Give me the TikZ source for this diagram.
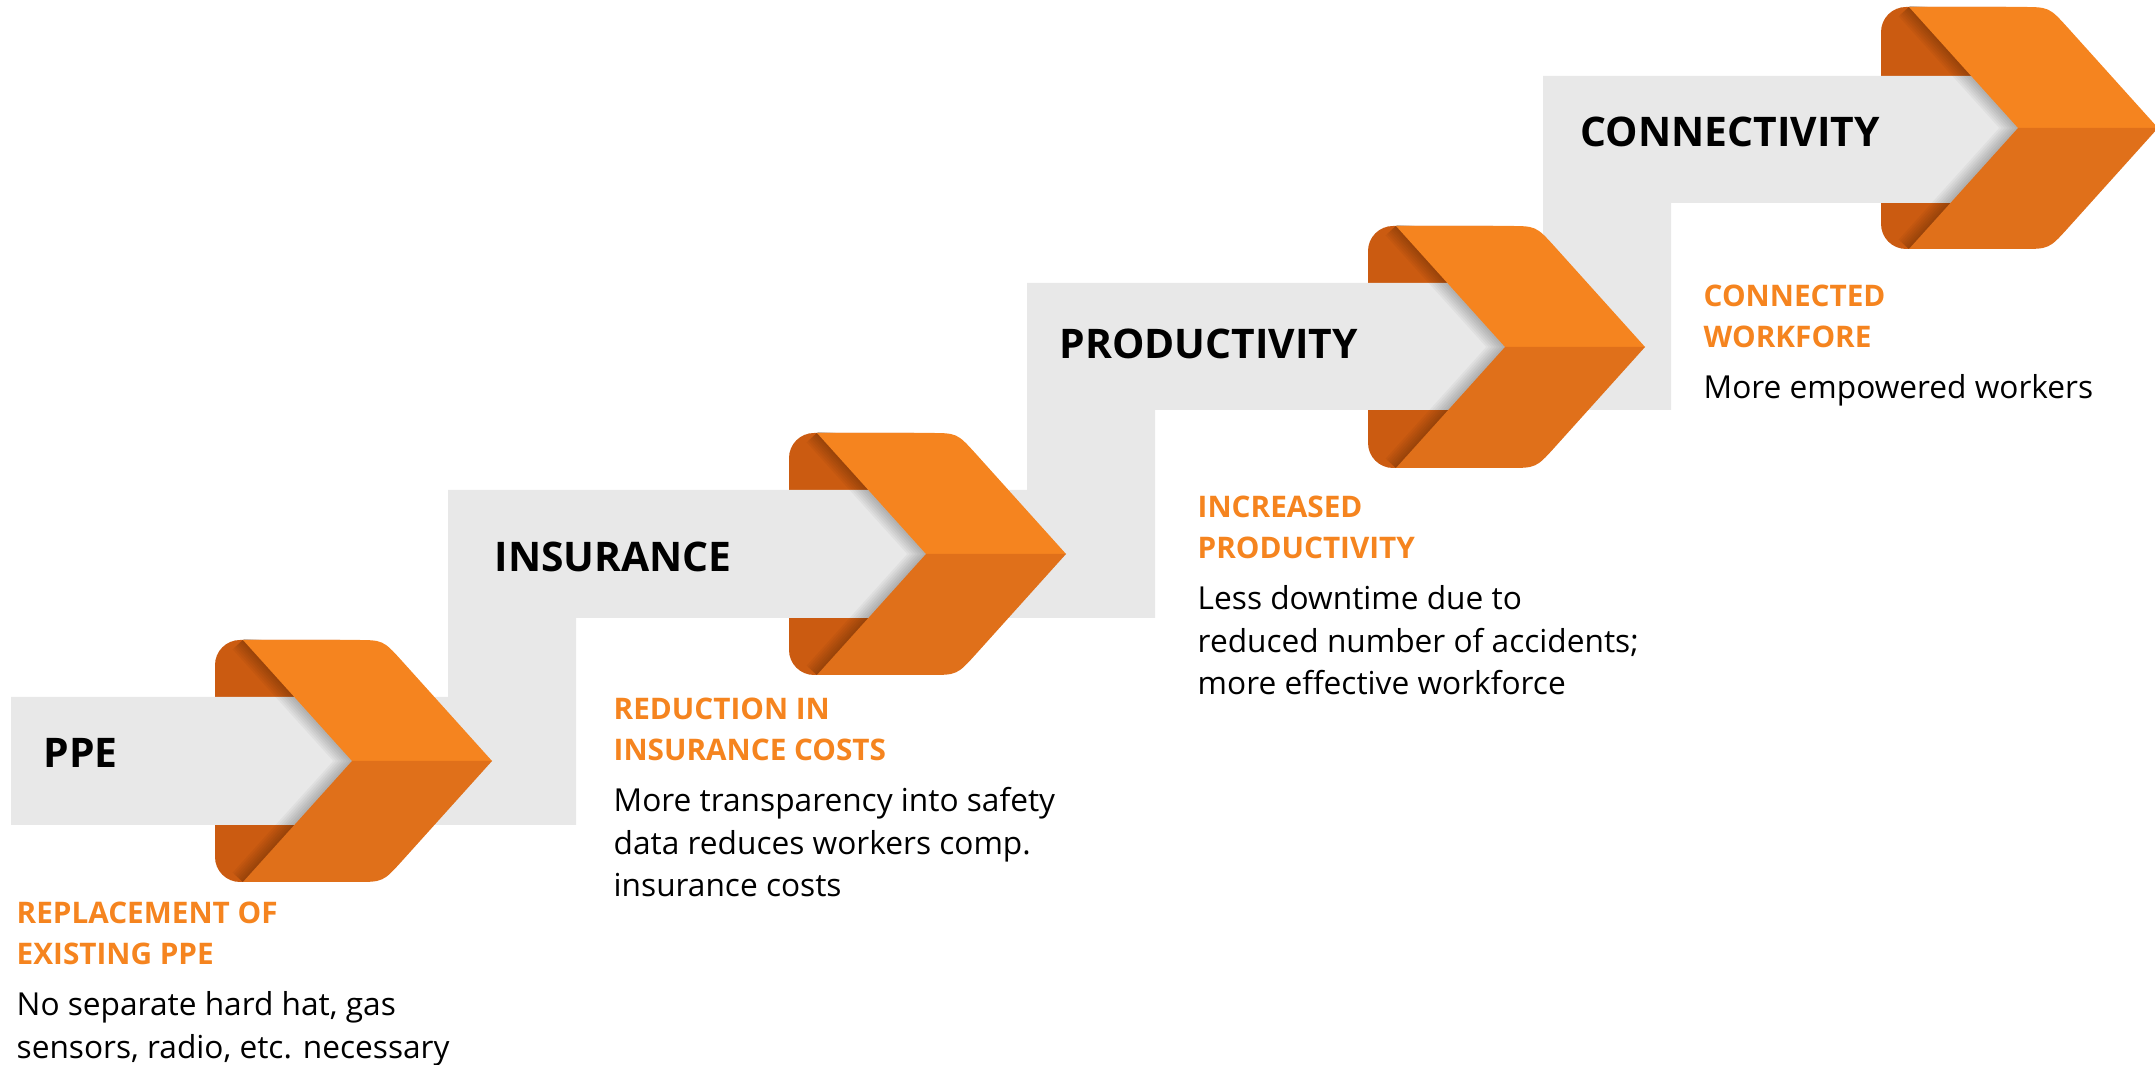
\documentclass[tikz,border=0pt]{standalone}
\usepackage{fontspec}
\setmainfont{Open Sans}
\usepackage{xcolor}
\definecolor{orangeLight}{HTML}{F5841F}
\definecolor{orangeDark}{HTML}{E0701A}
\definecolor{orangeBack}{HTML}{CB5B11}
\definecolor{stepGray}{HTML}{E8E8E8}
\colorlet{colorHeading}{orangeLight}
\usepackage{tikz}
\usetikzlibrary{positioning}
\tikzset{
  stage/.style={anchor=base west, inner sep=0pt, font=\fontsize{11.6}{14}\selectfont\bfseries},
  heading/.style={anchor=north west, inner sep=0pt, align=left, text=colorHeading, font=\fontsize{8.45}{11.8}\selectfont\bfseries},
  detail/.style={inner sep=0pt, align=left, font=\fontsize{9}{12.1}\selectfont},
}

\begin{document}
\begin{tikzpicture}[x=0.01cm, y=-0.01cm]
\useasboundingbox (0,0) rectangle (2155,1065);
% back of the chevrons
\foreach \l/\t in {215/640, 789/433, 1368/226, 1881/7}
  \fill[orangeBack, rounded corners=0.25cm] (\l,\t) rectangle ++(150,242);
% grey steps
\fill[stepGray] (11,697) -- (448,697) -- (448,490) -- (1027,490) -- (1027,283) -- (1543,283) -- (1543,76) -- (2018,76) -- (2018,203) -- (1671,203) -- (1671,410) -- (1155,410) -- (1155,618) -- (576,618) -- (576,825) -- (11,825) -- cycle;
% front of the chevrons, with the fold shadow
\foreach \l/\t in {215/640, 789/433, 1368/226, 1881/7} {
  \begin{scope}[shift={(\l,\t)}]
    \begin{scope}
      \clip (0,0) rectangle (277,242);
      \foreach \w in {0.04,0.08,0.12,0.16,0.2,0.24,0.28}
        \draw[black, opacity=0.035, line width=\w cm] (28,0) -- (137,121) -- (28,242);
    \end{scope}
    \fill[orangeLight] (28,0) -- (140,0) .. controls (168,0) .. (187,21) -- (277,121) -- (137,121) -- cycle;
    \fill[orangeDark] (137,121) -- (277,121) -- (187,221) .. controls (168,242) .. (140,242) -- (28,242) -- cycle;
  \end{scope}
}
% stage titles
\node[stage] (ppe) at (43,768) {PPE};
\node[stage] (insurance) at (494,572) {INSURANCE};
\node[stage] (productivity) at (1059,359) {PRODUCTIVITY};
\node[stage] (connectivity) at (1580,147) {CONNECTIVITY};
% gains
\node[heading] (gainPPE) at (16,901) {REPLACEMENT OF\\EXISTING PPE};
\node[detail, below right=0.25cm and 0cm of gainPPE.south west] (notePPE) {No separate hard hat, gas\\sensors, radio, etc. necessary};
\node[heading] (gainInsurance) at (613,697) {REDUCTION IN\\INSURANCE COSTS};
\node[detail, below right=0.25cm and 0cm of gainInsurance.south west] (noteInsurance) {More transparency into safety\\data reduces workers comp.\\insurance costs};
\node[heading] (gainProductivity) at (1197,495) {INCREASED\\PRODUCTIVITY};
\node[detail, below right=0.25cm and 0cm of gainProductivity.south west] (noteProductivity) {Less downtime due to\\reduced number of accidents;\\more effective workforce};
\node[heading] (gainConnectivity) at (1703,284) {CONNECTED\\WORKFORE};
\node[detail, below right=0.25cm and 0cm of gainConnectivity.south west] (noteConnectivity) {More empowered workers};
\end{tikzpicture}
\end{document}
